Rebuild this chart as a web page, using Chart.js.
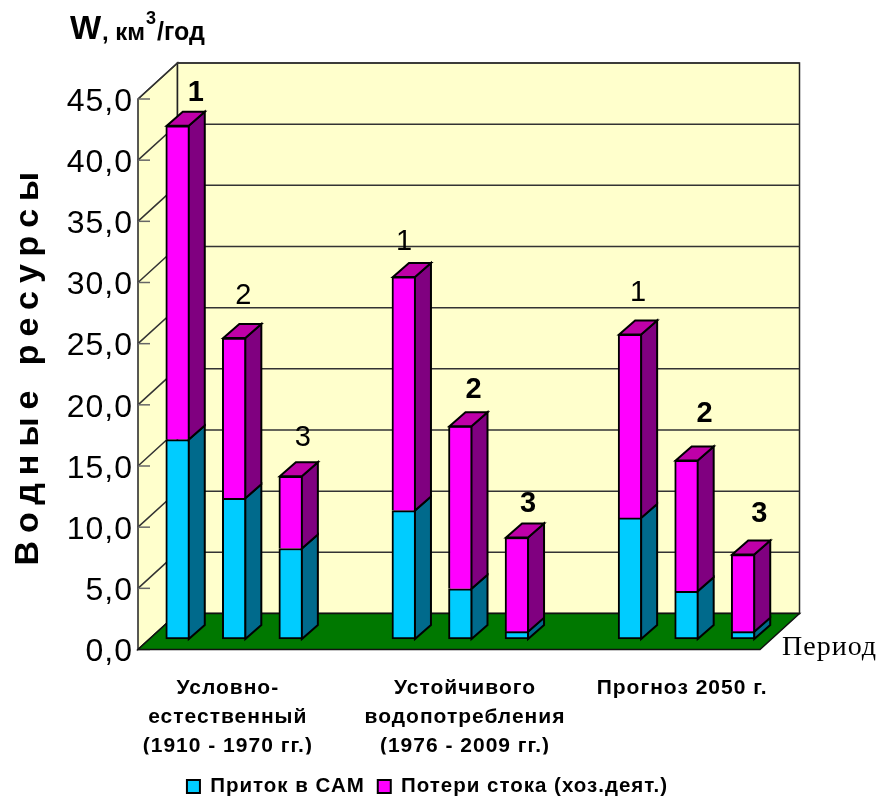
<!DOCTYPE html>
<html><head><meta charset="utf-8">
<style>html,body{margin:0;padding:0;background:#fff}canvas{display:block}</style>
<script src="https://cdn.jsdelivr.net/npm/chart.js@4"></script>
</head><body><canvas id="c" width="881" height="798"></canvas>
<script>
const categories = ['', ['Условно-','естественный','(1910 - 1970 гг.)'], '', '', '', ['Устойчивого','водопотребления','(1976 - 2009 гг.)'], '', '', '', 'Прогноз 2050 г.', ''];
const inflow = [16.3, 11.5, 7.4, null, 10.5, 4.1, 0.6, null, 9.9, 3.9, 0.6];
const losses = [25.65, 13.1, 5.9, null, 19.1, 13.3, 7.7, null, 15.0, 10.7, 6.3];
const yTickLabels = ['0,0','5,0','10,0','15,0','20,0','25,0','30,0','35,0','40,0','45,0'];
const barNumbers = ['1','2','3',null,'1','2','3',null,'1','2','3'];
const barNumberBold = [true,false,false,null,false,true,true,null,false,true,true];
const seriesNames = ['Приток в САМ','Потери стока (хоз.деят.)'];

const FONT = '"Liberation Sans", Arial, sans-serif';
const WALL = {dx: 39.5, dy: -36};
const BAR_SHIFT = {dx: 11.5, dy: -10.5};
const BAR_DEPTH = {dx: 16, dy: -14};
const numberOffsets = [[18,-35],[9,-44],[12,-40],null,[0,-37],[13,-38],[11,-35],null,[8,-43],[18,-48],[16,-43]];
const xLabelShift = {1: 5, 5: 16, 9: 7};
const sideColors = ['#006a8c', '#800080'];
const topColors = ['#0099bf', '#bf00a8'];

function poly(ctx, pts, fill, stroke, lw){
  ctx.beginPath();
  pts.forEach((p,i)=> i?ctx.lineTo(p[0],p[1]):ctx.moveTo(p[0],p[1]));
  ctx.closePath();
  if(fill){ctx.fillStyle=fill;ctx.fill();}
  if(stroke){ctx.strokeStyle=stroke;ctx.lineWidth=lw;ctx.lineJoin='miter';ctx.stroke();}
}

const scene = {
  id: 'scene',
  beforeLayout(chart){ chart.ctx.letterSpacing = '1px'; },
  afterLayout(chart){
    const lg = chart.legend;
    const h = lg.height;
    lg.left = 0; lg.right = 855;
    lg.top = 785 - h/2; lg.bottom = lg.top + h;
    const y = chart.scales.y;
    if(!y._spaced){
      y._spaced = true;
      const base = y.drawTitle;
      y.drawTitle = function(area){
        const c = this.ctx;
        c.save();
        c.letterSpacing = '8px';
        c.translate(0,-9.5);
        base.call(this, area);
        c.restore();
      };
    }
  },
  beforeDraw(chart){
    const ctx = chart.ctx, a = chart.chartArea, y = chart.scales.y, x = chart.scales.x;
    ctx.letterSpacing = '1px';
    x.getLabelItems(a).forEach((it)=>{
      if(it._moved) return;
      it._moved = true;
      const idx = x.ticks.findIndex(t => t.label === it.label);
      if(xLabelShift[idx]) it.options.translation[0] += xLabelShift[idx];
    });
    const L=a.left,R=a.right,B=a.bottom,T=a.top,dx=WALL.dx,dy=WALL.dy;
    ctx.save();
    poly(ctx,[[L,T],[L+dx,T+dy],[L+dx,B+dy],[L,B]],'#ffffcc','#222',1.5);
    poly(ctx,[[L+dx,T+dy],[R+dx,T+dy],[R+dx,B+dy],[L+dx,B+dy]],'#ffffcc','#222',1.5);
    yTickLabels.forEach((_,i)=>{
      const py = y.getPixelForValue(i*5);
      ctx.lineWidth = 1.5; ctx.strokeStyle = '#333';
      ctx.beginPath(); ctx.moveTo(L,py); ctx.lineTo(L+dx,py+dy); ctx.lineTo(R+dx,py+dy); ctx.stroke();
      ctx.strokeStyle = '#666';
      ctx.beginPath(); ctx.moveTo(L,py); ctx.lineTo(L+12,py); ctx.stroke();
    });
    poly(ctx,[[L,B],[R,B],[R+dx,B+dy],[L+dx,B+dy]],'#007800','#111',1.5);
    ctx.restore();
  },
  beforeDatasetsDraw(chart){
    chart.ctx.save();
    chart.ctx.translate(BAR_SHIFT.dx, BAR_SHIFT.dy);
  },
  afterDatasetsDraw(chart){
    const ctx = chart.ctx, d = BAR_DEPTH;
    [0,1].forEach(ds=>{
      chart.getDatasetMeta(ds).data.forEach((b,i)=>{
        if(inflow[i]===null) return;
        const r=b.x+b.width/2-1, l=b.x-b.width/2+1;
        poly(ctx,[[r,b.y],[r+d.dx,b.y+d.dy],[r+d.dx,b.base+d.dy],[r,b.base]],sideColors[ds],'#000',2);
        if(ds===1) poly(ctx,[[l,b.y],[l+d.dx,b.y+d.dy],[r+d.dx,b.y+d.dy],[r,b.y]],topColors[ds],'#000',2);
      });
    });
    ctx.restore();
  },
  afterDraw(chart){
    const ctx = chart.ctx;
    ctx.save();
    ctx.fillStyle='#000'; ctx.textBaseline='alphabetic'; ctx.textAlign='center';
    ctx.letterSpacing='0px';
    chart.getDatasetMeta(1).data.forEach((b,i)=>{
      if(!barNumbers[i]) return;
      const o=numberOffsets[i];
      ctx.font=(barNumberBold[i]?'bold ':'')+'29px '+FONT;
      ctx.fillText(barNumbers[i], b.x+BAR_SHIFT.dx+o[0], b.y+BAR_SHIFT.dy+o[1]+10);
    });
    ctx.textAlign='left';
    ctx.font='bold 33px '+FONT; ctx.fillText('W',70,39);
    ctx.font='bold 24px '+FONT; ctx.fillText(', км',102,40);
    ctx.font='bold 18px '+FONT; ctx.fillText('3',146,24);
    ctx.font='bold 25px '+FONT; ctx.fillText('/год',157,40);
    ctx.font='28px "Liberation Serif", serif'; ctx.letterSpacing='1px'; ctx.fillText('Период',782,655);
    ctx.restore();
  }
};

new Chart(document.getElementById('c'), {
  type: 'bar',
  data: {
    labels: categories,
    datasets: [
      {label: seriesNames[0], data: inflow, backgroundColor:'#00ccff', borderColor:'#000', borderWidth:2, borderSkipped:false, stack:'a', clip:false},
      {label: seriesNames[1], data: losses, backgroundColor:'#ff00ff', borderColor:'#000', borderWidth:2, borderSkipped:'bottom', stack:'a', clip:false}
    ]
  },
  plugins: [scene],
  options: {
    responsive:false, animation:false, devicePixelRatio:1,
    layout:{padding:{left:0,top:99,right:121,bottom:0}},
    datasets:{bar:{barThickness:24}},
    plugins:{
      tooltip:{enabled:false},
      title:{display:false},
      legend:{
        position:'bottom',
        labels:{color:'#000',boxWidth:13,boxHeight:13,padding:13,font:{family:FONT,size:20.5,weight:'bold'}}
      }
    },
    scales:{
      x:{
        stacked:true,
        afterFit(s){ s.height = 105; },
        grid:{display:false,drawTicks:false}, border:{display:false},
        ticks:{autoSkip:false,maxRotation:0,minRotation:0,padding:24,color:'#000',font:{family:FONT,size:21,weight:'bold',lineHeight:1.38}}
      },
      y:{
        stacked:true,min:0,max:45,
        afterBuildTicks(s){ s.ticks = yTickLabels.map((_,i)=>({value:i*5})); },
        afterFit(s){ s.width = 138; },
        grid:{display:false,drawTicks:false}, border:{display:false},
        ticks:{padding:5,labelOffset:3,color:'#000',font:{family:FONT,size:32},callback:(v,i)=>yTickLabels[i]},
        title:{display:true,text:'Водные ресурсы',color:'#000',padding:{top:8,bottom:0},font:{family:FONT,size:34,weight:'bold'}}
      }
    }
  }
});
</script></body></html>
